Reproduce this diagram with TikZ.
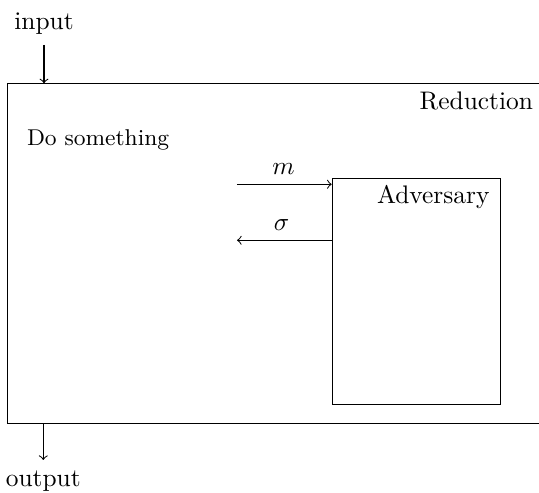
\documentclass[tikz,border=0pt]{standalone}
\begin{document}
\begin{tikzpicture}[x=0.3937pt,y=-0.3937pt,
  box/.style={draw,inner sep=0pt,anchor=north west},
  lbl/.style={inner sep=0pt},
  >=to]
\useasboundingbox (0,0) rectangle (539,493);
% Reduction box (right edge runs past the picture)
\node[box,minimum width=212.9pt,minimum height=133.6pt] (red) at (7.3,83.3) {};
\node[lbl,anchor=base east] (redlbl) at (533.5,109.3) {Reduction};
\node[lbl,anchor=base west,font=\small] (dos) at (26.5,145.7) {Do something};
% Adversary box
\node[box,minimum width=66.3pt,minimum height=89.1pt] (adv) at (331.7,177.7) {};
\node[lbl,anchor=base east] (advlbl) at (490,203.5) {Adversary};
% messages
\coordinate (mL) at (237,184.3);
\coordinate (sL) at (237,240.3);
\draw[->] (mL) -- (adv.west |- mL);
\draw[->] (adv.west |- sL) -- (sL);
\node[lbl,anchor=base] (mlbl) at (283.5,175) {$m$};
\node[lbl,anchor=base] (slbl) at (281.5,230.7) {$\sigma$};
% input / output
\node[lbl,anchor=base] (in) at (44,30) {input};
\coordinate (inA) at (44,45);
\draw[->] (inA) -- (inA |- red.north);
\node[lbl,anchor=base] (out) at (43.3,486.7) {output};
\coordinate (outA) at (43.3,460);
\draw[->] (outA |- red.south) -- (outA);
\end{tikzpicture}
\end{document}
